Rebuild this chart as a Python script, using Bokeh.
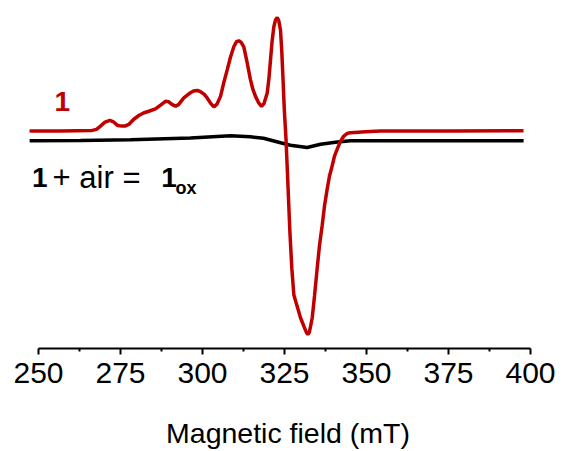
from bokeh.plotting import figure
from bokeh.models import FixedTicker, Label
from bokeh.embed import file_html
from bokeh.resources import INLINE

# Magnetic field (mT) and EPR signal (a.u.)
field_1 = [247.26, 248.08, 256.71, 266.37, 267.68, 268.90, 270.12, 271.74, 272.87, 274.09,
           275.52, 276.52, 277.53, 278.96, 280.58, 282.01, 283.63, 285.67, 287.20, 288.72,
           289.63, 290.55, 291.77, 292.68, 294.30, 296.34, 297.26, 298.38, 299.39, 300.46,
           301.43, 302.44, 303.45, 304.42, 305.49, 306.40, 307.53, 308.54, 309.54, 310.37,
           311.07, 311.74, 312.59, 313.57, 314.63, 315.40, 316.16, 317.07, 317.99, 318.75,
           319.73, 320.27, 320.73, 321.19, 321.74, 322.26, 322.77, 323.26, 323.78, 324.18,
           324.60, 324.94, 325.46, 325.91, 326.62, 327.23, 327.84, 328.81, 329.88, 330.95,
           331.71, 332.10, 332.53, 332.93, 333.45, 334.15, 334.97, 335.67, 336.49, 337.20,
           338.02, 338.72, 339.54, 340.24, 341.07, 341.92, 343.08, 344.05, 345.12, 349.70,
           354.27, 375.61, 397.87]
signal_1 = [-0.5, -0.7, -0.5, 0.0, 1.0, 4.3, 8.0, 10.0, 8.5, 5.0,
            4.3, 4.5, 6.0, 11.0, 15.0, 17.5, 19.3, 21.7, 25.5, 29.3,
            29.0, 26.5, 24.3, 26.0, 32.7, 38.0, 39.7, 40.3, 39.0, 36.5,
            32.7, 27.5, 23.7, 26.5, 34.3, 47.0, 61.0, 74.0, 84.3, 89.5,
            90.3, 89.0, 84.3, 69.0, 51.0, 41.0, 34.3, 28.0, 24.3, 27.0,
            37.7, 53.0, 71.0, 89.0, 104.3, 111.5, 113.7, 110.5, 101.0, 79.0,
            47.7, 21.0, -9.0, -44.0, -101.0, -139.0, -165.7, -177.0, -189.0, -198.0,
            -204.0, -205.7, -204.0, -198.0, -189.0, -167.0, -139.0, -116.0, -95.7, -76.0,
            -59.0, -46.0, -35.7, -26.0, -19.0, -12.0, -5.7, -3.2, -2.3, -1.5,
            -0.7, -0.5, -0.3]

field_ox = [247.3, 262.8, 278.1, 296.3, 308.5, 314.6, 318.6, 323.8, 326.8, 331.9,
            336.0, 341.1, 345.1, 397.9]
signal_ox = [-10.5, -10.2, -9.5, -7.7, -5.5, -6.5, -8.0, -12.5, -15.0, -17.3,
             -14.0, -11.7, -10.5, -10.5]

x_ticks = [250, 275, 300, 325, 350, 375, 400]
x_minor = [262.5, 287.5, 312.5, 337.5, 362.5, 387.5]

RED = "#C00000"
FONT = "Liberation Sans"

p = figure(width=563, height=451, x_range=(243.29, 408.84), y_range=(-220, 131),
           output_backend="svg", toolbar_location=None, y_axis_location=None,
           min_border_left=16, min_border_right=4, min_border_top=0,
           min_border_bottom=100)
p.outline_line_color = None
p.grid.visible = False
p.background_fill_color = "white"
p.border_fill_color = "white"

p.line(field_ox, signal_ox, line_color="black", line_width=3.5)
p.line(field_1, signal_1, line_color=RED, line_width=3.5)

ax = p.xaxis[0]
ax.ticker = FixedTicker(ticks=x_ticks, minor_ticks=x_minor)
ax.bounds = (250, 400)
ax.axis_line_width = 2
ax.axis_line_color = "black"
ax.major_tick_line_width = 2
ax.major_tick_line_color = "black"
ax.minor_tick_line_width = 2
ax.minor_tick_line_color = "black"
ax.major_tick_in = 0
ax.major_tick_out = 6
ax.minor_tick_in = 0
ax.minor_tick_out = 3
ax.major_label_text_font = FONT
ax.major_label_text_font_size = "30px"
ax.major_label_text_color = "black"
ax.major_label_standoff = 8
ax.axis_label = "Magnetic field (mT)"
ax.axis_label_text_font = FONT
ax.axis_label_text_font_size = "28.5px"
ax.axis_label_text_font_style = "normal"
ax.axis_label_text_color = "black"
ax.axis_label_standoff = 31

p.add_layout(Label(x=254.9, y=29.5, text="1", text_font=FONT, text_font_size="28px",
                   text_font_style="bold", text_color=RED, text_baseline="alphabetic"))
p.add_layout(Label(x=248.0, y=-47.5, text="1", text_font=FONT, text_font_size="28px",
                   text_font_style="bold", text_color="black", text_baseline="alphabetic"))
p.add_layout(Label(x=254.3, y=-47.5, text="+ air =", text_font=FONT, text_font_size="31px",
                   text_font_style="normal", text_color="black", text_baseline="alphabetic"))
p.add_layout(Label(x=287.4, y=-47.5, text="1", text_font=FONT, text_font_size="28px",
                   text_font_style="bold", text_color="black", text_baseline="alphabetic"))
p.add_layout(Label(x=291.8, y=-58.5, text="ox", text_font=FONT, text_font_size="18px",
                   text_font_style="bold", text_color="black", text_baseline="alphabetic"))

open("out.html", "w").write(file_html(p, INLINE))
